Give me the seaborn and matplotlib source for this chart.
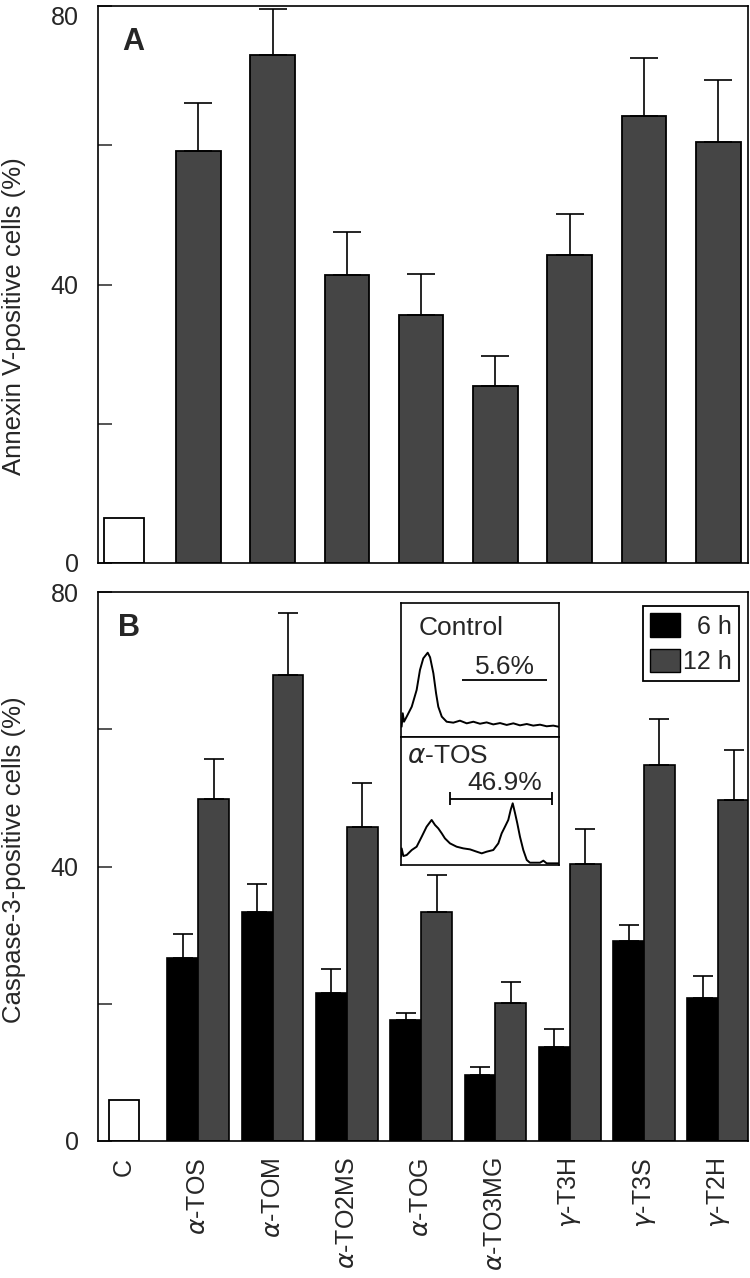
import numpy as np
import pandas as pd
import matplotlib
matplotlib.use("Agg")
import matplotlib.pyplot as plt
from matplotlib.patches import Patch
import seaborn as sns

# ---------------- data ----------------
cat_keys = ["C", "a-TOS", "a-TOM", "a-TO2MS", "a-TOG", "a-TO3MG", "g-T3H", "g-T3S", "g-T2H"]
tick_labels = ["C", r"$\alpha$-TOS", r"$\alpha$-TOM", r"$\alpha$-TO2MS", r"$\alpha$-TOG",
               r"$\alpha$-TO3MG", r"$\gamma$-T3H", r"$\gamma$-T3S", r"$\gamma$-T2H"]

# Panel A: Annexin V-positive cells (%)
annexin_control = 6.5
annexin_vals = [59.2, 73.0, 41.4, 35.6, 25.4, 44.3, 64.2, 60.5]
annexin_err = [6.9, 6.5, 6.2, 5.9, 4.3, 5.8, 8.3, 8.8]

# Panel B: Caspase-3-positive cells (%)
time_levels = ["6 h", "12 h"]
caspase_control = 6.0
caspase_6h = [26.6, 33.3, 21.5, 17.7, 9.6, 13.7, 29.2, 20.8]
caspase_6h_err = [3.5, 4.1, 3.6, 1.0, 1.2, 2.6, 2.3, 3.3]
caspase_12h = [49.9, 67.9, 45.8, 33.3, 20.1, 40.3, 54.8, 49.7]
caspase_12h_err = [5.8, 9.1, 6.4, 5.4, 3.0, 5.2, 6.7, 7.3]

# Inset flow-cytometry histograms (channel 0-100, relative counts 0-100)
ctrl_x = [0.4, 1.1, 1.9, 3.6, 6.8, 9.9, 12.0, 14.1, 16.9, 18.4, 20.5, 22.2, 23.6, 25.8, 28.9,
          33.1, 37.3, 41.6, 45.8, 50.0, 54.2, 58.4, 62.7, 66.9, 71.1, 75.3, 79.6, 83.7, 88.0,
          92.2, 96.4, 99.6]
ctrl_y = [7.7, 17.7, 11.4, 15.2, 22.6, 35.1, 50.0, 58.7, 62.9, 59.5, 47.5, 32.6, 22.6, 15.2, 11.4,
          10.7, 12.2, 10.2, 11.4, 9.9, 10.9, 9.4, 10.4, 9.0, 10.2, 8.7, 9.7, 8.5, 9.2,
          8.0, 8.5, 7.7]
tos_x = [0.0, 0.4, 1.5, 3.6, 6.8, 9.9, 13.1, 16.2, 19.4, 21.5, 23.6, 25.8, 27.8, 31.0, 35.2,
         39.4, 43.7, 47.9, 51.1, 54.2, 58.4, 61.6, 63.7, 65.8, 67.9, 69.4, 70.7, 72.2, 73.6,
         75.3, 77.4, 79.6, 81.6, 88.0, 90.1, 92.2, 99.6]
tos_y = [6.5, 13.0, 7.0, 7.8, 11.7, 14.3, 22.1, 29.9, 35.2, 31.3, 28.6, 24.7, 20.8, 16.9, 14.3,
         13.0, 12.2, 10.4, 9.1, 10.4, 11.7, 16.9, 24.7, 29.9, 35.2, 43.0, 48.2, 40.4, 32.6,
         22.1, 11.7, 3.9, 1.8, 1.8, 3.4, 1.3, 1.3]

# ---------------- style ----------------
sns.set_style("white")
plt.rcParams["font.family"] = ["Liberation Sans", "DejaVu Sans"]
plt.rcParams["mathtext.fontset"] = "dejavusans"

BAR_GREY = "#454545"
W, H = 750, 1278
fig = plt.figure(figsize=(W / 100, H / 100), dpi=100)
axA = fig.add_axes([98 / W, 1 - 563 / H, 650 / W, 557 / H])
axB = fig.add_axes([98 / W, 1 - 1141 / H, 650 / W, 549 / H])

# ---------------- Panel A ----------------
dfA = pd.DataFrame({"cat": cat_keys[1:], "val": annexin_vals})
sns.barplot(data=dfA, x="cat", y="val", order=cat_keys, color=BAR_GREY, saturation=1,
            width=0.6, edgecolor="black", linewidth=1.3, errorbar=None, ax=axA)
for p in list(axA.patches):
    cx = p.get_x() + p.get_width() / 2
    idx = int(round(cx))
    axA.errorbar(cx, p.get_height(), yerr=[[0], [annexin_err[idx - 1]]], fmt="none",
                 ecolor="black", elinewidth=1.2, capsize=10, capthick=1.2, zorder=5)
sns.barplot(x=["C"], y=[annexin_control], order=cat_keys, color="white", saturation=1,
            width=0.54, edgecolor="black", linewidth=1.3, errorbar=None, ax=axA)

# ---------------- Panel B ----------------
dfB = pd.DataFrame({
    "cat": cat_keys[1:] * 2,
    "time": [time_levels[0]] * 8 + [time_levels[1]] * 8,
    "val": caspase_6h + caspase_12h,
})
sns.barplot(data=dfB, x="cat", y="val", hue="time", order=cat_keys, hue_order=time_levels,
            palette=["#000000", BAR_GREY], saturation=1, width=0.83, edgecolor="black",
            linewidth=1.2, errorbar=None, ax=axB)
for p in list(axB.patches):
    if p.get_height() <= 0:
        continue
    cx = p.get_x() + p.get_width() / 2
    idx = int(round(cx))
    err = caspase_6h_err[idx - 1] if cx < idx else caspase_12h_err[idx - 1]
    axB.errorbar(cx, p.get_height(), yerr=[[0], [err]], fmt="none", ecolor="black",
                 elinewidth=1.2, capsize=7, capthick=1.2, zorder=5)
sns.barplot(x=["C"], y=[caspase_control], order=cat_keys, color="white", saturation=1,
            width=0.4, edgecolor="black", linewidth=1.3, errorbar=None, ax=axB)

old = axB.get_legend()
if old is not None:
    old.remove()
handles = [Patch(facecolor="#000000", edgecolor="black", linewidth=1.0),
           Patch(facecolor=BAR_GREY, edgecolor="black", linewidth=1.0)]
leg = axB.legend(handles, ["  " + time_levels[0], time_levels[1]], loc="upper right",
                 bbox_to_anchor=(0.986, 0.9745), fontsize=18, frameon=True, fancybox=False,
                 framealpha=1, edgecolor="black", borderpad=0.3, handlelength=1.2,
                 handleheight=1.05, handletextpad=0.1, labelspacing=0.4, borderaxespad=0)
leg.get_frame().set_linewidth(1.3)

# ---------------- axes styling ----------------
for ax in (axA, axB):
    ax.set_xlim(-0.35, 8.40)
    ax.set_ylim(0, 80)
    ax.set_yticks([0, 20, 40, 60, 80])
    ax.set_yticklabels(["0", "", "40", "", "80"])
    ax.tick_params(axis="y", direction="in", length=10, width=1.1, labelsize=18, pad=14,
                   left=True)
    ax.tick_params(axis="x", length=0)
    for s in ax.spines.values():
        s.set_visible(True)
        s.set_color("black")
        s.set_linewidth(1.2)
    ax.set_xlabel("")

# top label of panel A sits just below its tick so it stays inside the figure
axA.get_yticklabels()[-1].set_verticalalignment("top")

axA.set_xticks(range(len(cat_keys)))
axA.set_xticklabels([])
axB.set_xticks(range(len(cat_keys)))
axB.set_xticklabels(tick_labels, rotation=90, fontsize=18)
axB.tick_params(axis="x", pad=12)

axA.set_ylabel("Annexin V-positive cells (%)", fontsize=18.5)
axA.yaxis.set_label_coords(-0.11, 0.443)
axB.set_ylabel("Caspase-3-positive cells (%)", fontsize=18.5)
axB.yaxis.set_label_coords(-0.11, 0.512)

axA.text(0.038, 0.962, "A", transform=axA.transAxes, fontsize=22, fontweight="bold",
         ha="left", va="top")
axB.text(0.031, 0.962, "B", transform=axB.transAxes, fontsize=22, fontweight="bold",
         ha="left", va="top")

# ---------------- inset histograms ----------------
axC = fig.add_axes([401 / W, 1 - 737 / H, 158 / W, 134 / H])
axT = fig.add_axes([401 / W, 1 - 865 / H, 158 / W, 128 / H])
sns.lineplot(x=ctrl_x, y=ctrl_y, sort=False, estimator=None, color="black", linewidth=1.4, ax=axC)
sns.lineplot(x=tos_x, y=tos_y, sort=False, estimator=None, color="black", linewidth=1.4, ax=axT)
for ax in (axC, axT):
    ax.set_xlim(0, 100)
    ax.set_ylim(0, 100)
    ax.set_xticks([])
    ax.set_yticks([])
    ax.set_xlabel("")
    ax.set_ylabel("")
    ax.set_facecolor("white")
    for s in ax.spines.values():
        s.set_visible(True)
        s.set_color("black")
        s.set_linewidth(1.2)

axC.text(11.4, 76, "Control", fontsize=19, ha="left", va="baseline")
axC.text(65.5, 47, "5.6%", fontsize=19, ha="center", va="baseline")
axC.hlines(42.5, 38.6, 92.4, color="black", linewidth=1.3)

axT.text(3.8, 79.7, r"$\alpha$-TOS", fontsize=19, ha="left", va="baseline")
axT.text(65.5, 58.6, "46.9%", fontsize=19, ha="center", va="baseline")
axT.hlines(51.6, 31.0, 95.6, color="black", linewidth=1.3)
axT.vlines([31.0, 95.6], 46.9, 57.0, color="black", linewidth=1.3)

fig.savefig("out.png", dpi=100)
